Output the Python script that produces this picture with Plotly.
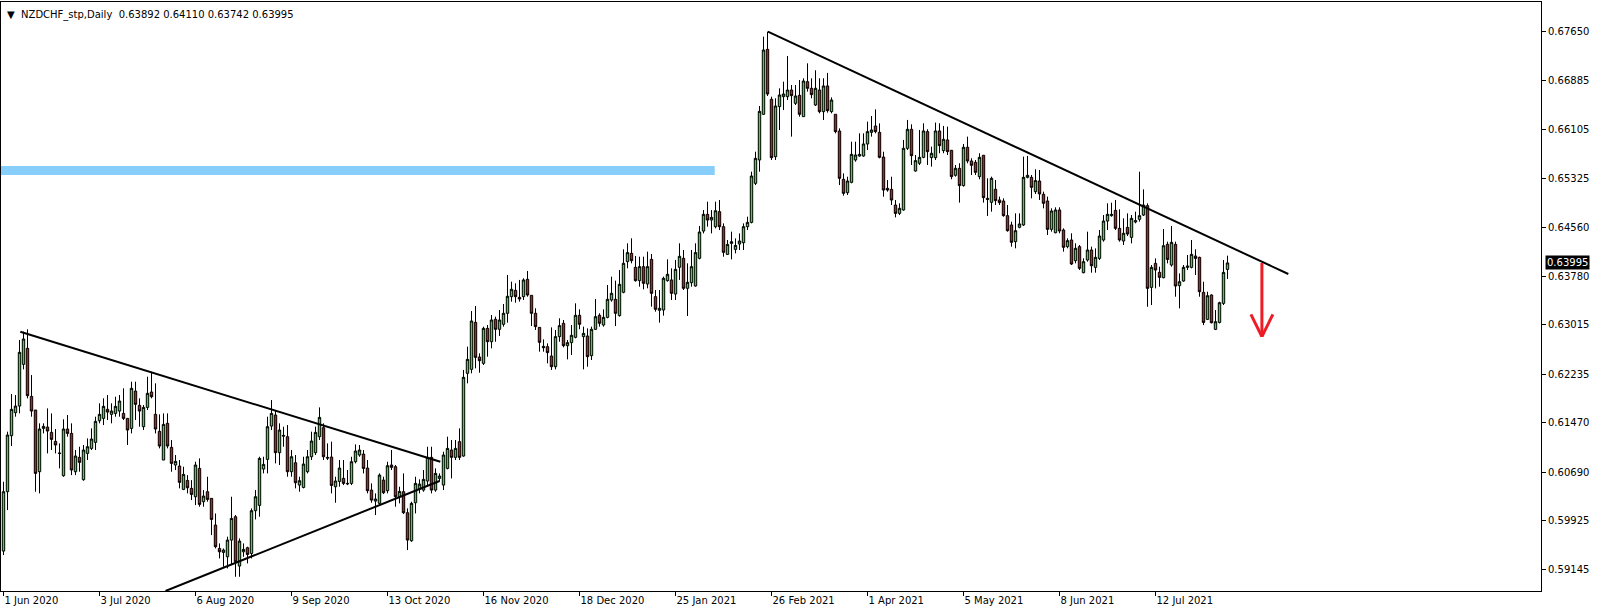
import plotly.graph_objects as go

# ---------------- data (NZDCHF daily, bar index 0 = 1 Jun 2020) ----------------
opens = [
0.59441,0.60379,0.61264,0.61628,0.61733,0.62392,0.62645,0.61886,0.61670,0.60695,
0.61380,0.61401,0.61317,0.61175,0.60990,0.60632,0.61370,0.61301,0.60695,0.60922,
0.60569,0.60985,0.61064,0.61159,0.61501,0.61538,0.61681,0.61602,0.61617,0.61654,
0.61617,0.61538,0.61380,0.61970,0.61744,0.61407,0.61712,0.61955,0.61602,0.61333,
0.60880,0.61460,0.61080,0.60801,0.60785,0.60416,0.60558,0.60432,0.60300,0.60748,
0.60221,0.60379,0.60274,0.59852,0.59483,0.59420,0.59351,0.59615,0.59984,0.59204,
0.59430,0.59494,0.59404,0.60079,0.60163,0.60737,0.60890,0.61417,0.61591,0.60996,
0.61270,0.61249,0.60695,0.60837,0.60484,0.60447,0.60695,0.60932,0.60996,0.61249,
0.61391,0.60922,0.60927,0.60458,0.60542,0.60590,0.60511,0.60511,0.60853,0.60959,
0.60974,0.60753,0.60405,0.60231,0.60195,0.60563,0.60395,0.60801,0.60774,0.60300,
0.60379,0.60047,0.59604,0.60205,0.60421,0.60405,0.60548,0.60922,0.60405,0.60590,
0.60484,0.60748,0.61038,0.60922,0.61170,0.60943,0.62250,0.62313,0.63056,0.62508,
0.62408,0.62961,0.62750,0.63104,0.62946,0.63025,0.63199,0.63462,0.63562,0.63451,
0.63462,0.63736,0.63483,0.63199,0.62977,0.62677,0.62671,0.62524,0.62355,0.62830,
0.63041,0.62687,0.62735,0.62819,0.63167,0.62830,0.62840,0.62529,0.62946,0.63167,
0.63014,0.63135,0.63409,0.63420,0.63162,0.63531,0.64015,0.64147,0.63926,0.63715,
0.63936,0.63662,0.64052,0.63462,0.63246,0.63251,0.63715,0.63726,0.63504,0.63926,
0.64068,0.63594,0.63683,0.63631,0.64068,0.64499,0.64763,0.64673,0.64568,0.64805,
0.64568,0.64130,0.64304,0.64209,0.64294,0.64315,0.64568,0.64636,0.65253,0.65622,
0.66344,0.67371,0.66581,0.65674,0.66465,0.66623,0.66623,0.66728,0.66518,0.66644,
0.66307,0.66860,0.66755,0.66491,0.66728,0.66386,0.66792,0.66386,0.66344,0.66080,
0.65316,0.65105,0.65269,0.65622,0.65685,0.65685,0.65875,0.66059,0.66159,0.66059,
0.65669,0.65174,0.65158,0.64910,0.64778,0.64832,0.65807,0.66107,0.65448,0.65570,
0.65664,0.66070,0.65659,0.65659,0.66081,0.65770,0.65939,0.65775,0.65380,0.65490,
0.65217,0.65823,0.65606,0.65585,0.65359,0.65696,0.65016,0.64953,0.65159,0.64990,
0.64974,0.64742,0.64595,0.64331,0.64558,0.64595,0.65348,0.65348,0.65122,0.65290,
0.65080,0.64974,0.64526,0.64473,0.64832,0.64516,0.64252,0.64358,0.64031,0.64252,
0.63841,0.64041,0.64199,0.63925,0.64067,0.64357,0.64657,0.64742,0.64826,0.64542,
0.64341,0.64557,0.64399,0.64642,0.64684,0.64752,0.64900,0.63609,0.63988,0.63846,
0.63762,0.64289,0.63962,0.64289,0.63635,0.63709,0.63925,0.63925,0.64104,0.64083,
0.63530,0.63103,0.63488,0.62945,0.63055,0.63356,0.63892]
highs = [
0.60537,0.61328,0.61923,0.61907,0.62777,0.62909,0.62945,0.62223,0.61670,0.61460,
0.61460,0.61696,0.61617,0.61370,0.61143,0.61523,0.61591,0.61460,0.61038,0.61090,
0.61117,0.61222,0.61380,0.61565,0.61776,0.61855,0.61907,0.61776,0.61881,0.61907,
0.62013,0.61538,0.62118,0.62118,0.61855,0.61749,0.62197,0.62276,0.62092,0.61602,
0.61617,0.61617,0.61196,0.60959,0.60880,0.60774,0.60642,0.60563,0.60853,0.60906,
0.60405,0.60616,0.60274,0.60036,0.59562,0.59483,0.59668,0.60300,0.60010,0.59641,
0.59562,0.59510,0.60116,0.60405,0.60932,0.60932,0.61565,0.61828,0.61670,0.61460,
0.61407,0.61433,0.61038,0.60959,0.60616,0.60932,0.61038,0.61328,0.61407,0.61712,
0.61460,0.61143,0.61170,0.60616,0.60880,0.60880,0.60722,0.60932,0.61127,0.61117,
0.61038,0.60880,0.60511,0.60353,0.60669,0.60616,0.60853,0.61038,0.60801,0.60458,
0.60669,0.60116,0.60221,0.60616,0.60574,0.60722,0.61090,0.61090,0.60748,0.60669,
0.61011,0.61249,0.61196,0.61196,0.61380,0.62303,0.62671,0.63235,0.63314,0.62566,
0.62988,0.63014,0.63172,0.63146,0.63251,0.63346,0.63805,0.63699,0.63673,0.63726,
0.63752,0.63868,0.63483,0.63278,0.62977,0.62787,0.62724,0.62977,0.62935,0.63120,
0.63093,0.62777,0.63014,0.63357,0.63262,0.62988,0.62961,0.62988,0.63425,0.63199,
0.63262,0.63646,0.63778,0.63715,0.63884,0.64210,0.64305,0.64384,0.64105,0.64094,
0.64094,0.64173,0.64137,0.63567,0.63567,0.63778,0.64052,0.63910,0.64042,0.64305,
0.64200,0.63989,0.64200,0.64305,0.64579,0.64831,0.64963,0.64831,0.64963,0.64989,
0.64620,0.64357,0.64489,0.64383,0.64462,0.64620,0.64726,0.65437,0.65753,0.66475,
0.67571,0.67650,0.66623,0.66597,0.66755,0.66860,0.67266,0.66807,0.66807,0.66886,
0.66913,0.67150,0.66913,0.67040,0.66913,0.66913,0.66998,0.66612,0.66344,0.66122,
0.65411,0.65358,0.65911,0.65911,0.66043,0.66043,0.66228,0.66317,0.66423,0.66201,
0.65753,0.65305,0.65358,0.64989,0.64937,0.65939,0.66255,0.66186,0.65701,0.66097,
0.66202,0.66107,0.65833,0.66213,0.66202,0.66160,0.66149,0.65780,0.65543,0.65570,
0.65875,0.65991,0.65649,0.65622,0.65728,0.65701,0.65332,0.65359,0.65306,0.65043,
0.65016,0.64911,0.64647,0.64779,0.64779,0.65675,0.65686,0.65385,0.65475,0.65464,
0.65122,0.65043,0.64858,0.64874,0.64874,0.64542,0.64384,0.64463,0.64305,0.64278,
0.64068,0.64489,0.64252,0.64225,0.64515,0.64752,0.64937,0.64947,0.64990,0.64842,
0.64700,0.64779,0.64752,0.64805,0.65437,0.65158,0.64937,0.63962,0.64067,0.63936,
0.64531,0.64331,0.64578,0.64331,0.63830,0.63962,0.64120,0.64357,0.64210,0.64094,
0.63698,0.63540,0.63498,0.63250,0.63382,0.64041,0.64110]
lows = [
0.59378,0.60089,0.61101,0.61565,0.61617,0.62313,0.61855,0.61565,0.60379,0.60353,
0.61301,0.60985,0.61038,0.60985,0.60748,0.60616,0.61249,0.60642,0.60642,0.60695,
0.60553,0.60880,0.61038,0.61038,0.61460,0.61433,0.61512,0.61460,0.61565,0.61565,
0.61512,0.61117,0.61301,0.61512,0.61407,0.61354,0.61670,0.61855,0.61301,0.61064,
0.60880,0.61064,0.60695,0.60722,0.60432,0.60405,0.60353,0.60247,0.60168,0.60142,
0.60142,0.60221,0.59694,0.59483,0.59325,0.59193,0.59167,0.59220,0.59035,0.59035,
0.59351,0.59246,0.59325,0.59941,0.59984,0.60669,0.60669,0.61354,0.60827,0.60801,
0.61090,0.60616,0.60616,0.60432,0.60379,0.60432,0.60669,0.60880,0.60959,0.61196,
0.60880,0.60880,0.60353,0.60205,0.60458,0.60484,0.60484,0.60484,0.60827,0.60932,
0.60669,0.60353,0.60205,0.60010,0.60168,0.60342,0.60353,0.60722,0.60142,0.60195,
0.60026,0.59457,0.59588,0.60036,0.60353,0.60379,0.60458,0.60353,0.60379,0.60537,
0.60405,0.60732,0.60590,0.60880,0.60880,0.60932,0.62092,0.62250,0.62329,0.62260,
0.62382,0.62513,0.62645,0.62750,0.62840,0.62988,0.63051,0.63383,0.63367,0.63383,
0.63409,0.63462,0.62998,0.62935,0.62592,0.62592,0.62408,0.62303,0.62313,0.62750,
0.62661,0.62471,0.62540,0.62803,0.62946,0.62313,0.62355,0.62461,0.62935,0.62988,
0.62988,0.63120,0.63383,0.62998,0.63146,0.63515,0.63910,0.63989,0.63699,0.63620,
0.63578,0.63594,0.63304,0.63225,0.63051,0.63162,0.63699,0.63409,0.63409,0.63726,
0.63567,0.63156,0.63620,0.63620,0.64052,0.64462,0.64568,0.64462,0.64541,0.64515,
0.64093,0.64120,0.64051,0.64146,0.64199,0.64199,0.64515,0.64620,0.65226,0.65437,
0.66333,0.66633,0.65622,0.65622,0.66096,0.66412,0.66570,0.65991,0.66491,0.66307,
0.66307,0.66702,0.66597,0.66475,0.66360,0.66254,0.66370,0.66360,0.66043,0.65226,
0.65058,0.65068,0.65253,0.65595,0.65674,0.65674,0.65780,0.65991,0.66043,0.65648,
0.65042,0.65121,0.64910,0.64715,0.64752,0.64821,0.65780,0.65543,0.65438,0.65543,
0.65649,0.65543,0.65517,0.65622,0.65728,0.65728,0.65701,0.65317,0.65359,0.64948,
0.65201,0.65570,0.65385,0.65385,0.65317,0.64948,0.64737,0.64805,0.64911,0.64911,
0.64726,0.64489,0.64252,0.64226,0.64542,0.64579,0.65332,0.65016,0.65085,0.64990,
0.64858,0.64436,0.64489,0.64463,0.64463,0.64173,0.64226,0.63962,0.63989,0.63883,
0.63831,0.64015,0.63841,0.63841,0.64041,0.64331,0.64515,0.64726,0.64515,0.64331,
0.64278,0.64420,0.64304,0.64621,0.64647,0.64737,0.63303,0.63329,0.63593,0.63619,
0.63751,0.63988,0.63936,0.63461,0.63277,0.63698,0.63883,0.63909,0.63804,0.63461,
0.63013,0.63092,0.63039,0.62934,0.63039,0.63330,0.63742]
closes = [
0.60379,0.61275,0.61681,0.61733,0.62582,0.62793,0.61897,0.61654,0.60669,0.61370,
0.61412,0.61338,0.61206,0.61117,0.60985,0.61370,0.61301,0.60722,0.60943,0.60843,
0.61038,0.61090,0.61212,0.61491,0.61602,0.61728,0.61638,0.61654,0.61728,0.61812,
0.61538,0.61354,0.62013,0.61760,0.61654,0.61712,0.61934,0.61881,0.61370,0.61101,
0.61443,0.61101,0.60827,0.60859,0.60527,0.60653,0.60442,0.60337,0.60801,0.60179,
0.60310,0.60258,0.59941,0.59510,0.59430,0.59457,0.59615,0.59957,0.59272,0.59599,
0.59467,0.59388,0.60079,0.60300,0.60906,0.60811,0.61407,0.61617,0.60996,0.61354,
0.61259,0.60695,0.60932,0.60521,0.60553,0.60816,0.60932,0.61180,0.61317,0.61554,
0.60932,0.60911,0.60479,0.60548,0.60753,0.60511,0.60505,0.60853,0.61022,0.61038,
0.60748,0.60395,0.60247,0.60263,0.60642,0.60363,0.60790,0.60764,0.60300,0.60384,
0.60047,0.59615,0.60195,0.60511,0.60500,0.60574,0.60922,0.60405,0.60669,0.60627,
0.60959,0.61064,0.60922,0.61064,0.60922,0.62187,0.62471,0.63077,0.62503,0.62450,
0.62961,0.62750,0.63093,0.62946,0.63093,0.63199,0.63467,0.63578,0.63462,0.63425,
0.63726,0.63488,0.63199,0.62988,0.62740,0.62656,0.62577,0.62355,0.62830,0.63004,
0.62687,0.62735,0.62851,0.63167,0.63025,0.62882,0.62513,0.62946,0.63146,0.63041,
0.63135,0.63420,0.63515,0.63199,0.63657,0.63989,0.64158,0.64031,0.63715,0.63936,
0.63673,0.63936,0.63515,0.63262,0.63278,0.63752,0.63815,0.63515,0.63894,0.64100,
0.63594,0.63689,0.63936,0.64158,0.64484,0.64763,0.64673,0.64715,0.64820,0.64568,
0.64162,0.64288,0.64330,0.64272,0.64341,0.64568,0.64636,0.65369,0.65648,0.66391,
0.67360,0.66665,0.65659,0.66475,0.66649,0.66665,0.66728,0.66639,0.66633,0.66344,
0.66870,0.66755,0.66655,0.66755,0.66386,0.66792,0.66402,0.66570,0.66070,0.65332,
0.65095,0.65290,0.65711,0.65701,0.65711,0.65875,0.66070,0.66096,0.66070,0.65664,
0.65147,0.65147,0.64989,0.64778,0.64858,0.65807,0.66107,0.65690,0.65612,0.65664,
0.66081,0.65754,0.65728,0.66081,0.65849,0.65949,0.65754,0.65359,0.65490,0.65217,
0.65823,0.65606,0.65538,0.65427,0.65664,0.65027,0.65000,0.65332,0.64980,0.64948,
0.64742,0.64505,0.64321,0.64505,0.64611,0.65348,0.65380,0.65190,0.65296,0.65085,
0.64937,0.64526,0.64816,0.64832,0.64500,0.64242,0.64347,0.63978,0.64226,0.63910,
0.64015,0.64200,0.63951,0.64083,0.64420,0.64657,0.64763,0.64763,0.64542,0.64357,
0.64463,0.64452,0.64700,0.64663,0.64742,0.64910,0.63593,0.63925,0.63883,0.63767,
0.64267,0.64051,0.64320,0.63630,0.63698,0.63925,0.63946,0.64130,0.64067,0.63540,
0.63055,0.63477,0.63050,0.63066,0.63366,0.63846,0.63995]

# x-axis date labels (one every 24 bars) and price-axis labels
date_labels = ["1 Jun 2020", "3 Jul 2020", "6 Aug 2020", "9 Sep 2020", "13 Oct 2020",
               "16 Nov 2020", "18 Dec 2020", "25 Jan 2021", "26 Feb 2021", "1 Apr 2021",
               "5 May 2021", "8 Jun 2021", "12 Jul 2021"]
bars_per_label = 24
price_ticks = [0.67650, 0.66885, 0.66105, 0.65325, 0.64560, 0.63780, 0.63015,
               0.62235, 0.61470, 0.60690, 0.59925, 0.59145]

# drawn objects (bar index, price)
upper_tri = [(4.2, 0.62908), (109.2, 0.60853)]
lower_tri = [(40.5, 0.58810), (109.0, 0.60548)]
down_trend = [(191.1, 0.67650), (321.2, 0.63820)]
zone_low, zone_high, zone_end = 0.65385, 0.65527, 177.8
arrow_x, arrow_top, arrow_tip, arrow_wing_y, arrow_wing_dx = 314.6, 0.63994, 0.62829, 0.63183, 2.75

title_text = "▼\u00a0\u00a0NZDCHF_stp,Daily\u00a0\u00a00.63892 0.64110 0.63742 0.63995"
last_price = closes[-1]

x = list(range(len(opens)))
x_range = [-0.625, 384.375]

fig = go.Figure()
fig.add_trace(go.Candlestick(
    x=x, open=opens, high=highs, low=lows, close=closes,
    increasing=dict(fillcolor="#33dd33", line=dict(color="black", width=1)),
    decreasing=dict(fillcolor="#e01010", line=dict(color="black", width=1)),
    showlegend=False, hoverinfo="skip"))

shapes = []
shapes.append(dict(type="rect", xref="x", yref="y", x0=x_range[0], x1=zone_end,
                   y0=zone_low, y1=zone_high, fillcolor="#87cefa", line=dict(width=0), layer="below"))
for seg in (upper_tri, lower_tri, down_trend):
    shapes.append(dict(type="line", xref="x", yref="y", x0=seg[0][0], y0=seg[0][1],
                       x1=seg[1][0], y1=seg[1][1], line=dict(color="black", width=2)))
red = "#ee1c24"
shapes.append(dict(type="line", xref="x", yref="y", x0=arrow_x, y0=arrow_top, x1=arrow_x, y1=arrow_tip,
                   line=dict(color=red, width=3)))
for dx in (-arrow_wing_dx, arrow_wing_dx):
    shapes.append(dict(type="line", xref="x", yref="y", x0=arrow_x + dx, y0=arrow_wing_y,
                       x1=arrow_x, y1=arrow_tip, line=dict(color=red, width=3)))

fnt = "DejaVu Sans"
fig.update_layout(
    width=1604, height=614,
    margin=dict(l=1, r=63, t=2, b=23),
    paper_bgcolor="white", plot_bgcolor="white",
    boxgap=0.15,
    shapes=shapes,
    xaxis=dict(range=x_range, rangeslider=dict(visible=False),
               tickvals=[k * bars_per_label for k in range(len(date_labels))],
               ticktext=date_labels, ticks="outside", ticklen=4, tickcolor="black",
               ticklabelposition="outside right",
               tickfont=dict(family=fnt, size=10, color="black"),
               showline=True, linecolor="black", linewidth=1, mirror=True,
               showgrid=False, zeroline=False, fixedrange=True),
    yaxis=dict(range=[0.58810, 0.68119], side="right",
               tickvals=price_ticks, ticktext=[f"{v:.5f}" for v in price_ticks],
               ticks="outside", ticklen=4, tickcolor="black",
               tickfont=dict(family=fnt, size=10, color="black"),
               showline=True, linecolor="black", linewidth=1, mirror=True,
               showgrid=False, zeroline=False),
    annotations=[
        dict(xref="paper", yref="paper", x=0, y=1, xanchor="left", yanchor="top",
             xshift=4, yshift=-5, text=title_text, showarrow=False,
             font=dict(family=fnt, size=10, color="black")),
        dict(xref="paper", yref="y", x=1, y=last_price, xanchor="left", yanchor="middle",
             xshift=4, text=f"{last_price:.5f}", showarrow=False, bgcolor="black",
             borderpad=1, font=dict(family=fnt, size=10, color="white")),
    ],
)

fig.write_html("out.html", config={"displayModeBar": False},
               post_script="document.body.style.margin='0';")
